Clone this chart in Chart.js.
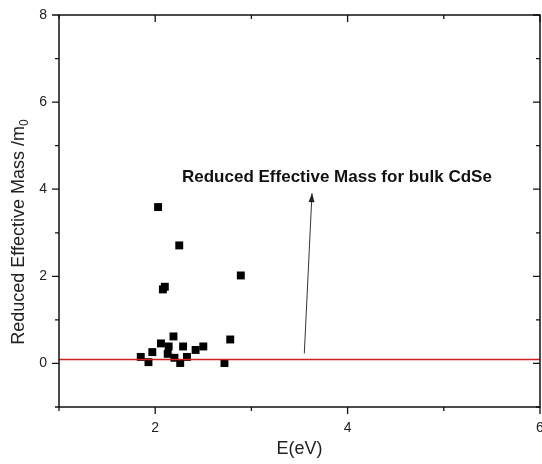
<!DOCTYPE html>
<html>
<head>
<meta charset="utf-8">
<script src="https://cdn.jsdelivr.net/npm/chart.js@4.4.1/dist/chart.umd.min.js"></script>
<style>
  html, body { margin:0; padding:0; background:#fff; }
  #wrap { width:542px; height:464px; }
</style>
</head>
<body>
<div id="wrap"><canvas id="massChart" width="542" height="464"></canvas></div>
<script>
// ========================== DATA ==========================
const energy = [1.85, 1.93, 1.97, 2.06, 2.13, 2.14, 2.19, 2.20, 2.26, 2.29, 2.33, 2.42, 2.50, 2.72, 2.78, 2.03, 2.25, 2.89, 2.08, 2.10];
const mass   = [0.15, 0.03, 0.26, 0.46, 0.22, 0.39, 0.62, 0.13, 0.01, 0.39, 0.15, 0.31, 0.39, 0.01, 0.55, 3.59, 2.71, 2.02, 1.70, 1.76];

const bulkMass = 0.09;          // red reference line
const bulkLineX = [1, 6];

const arrowX = [3.55, 3.63];    // annotation arrow (tail -> head)
const arrowY = [0.23, 3.91];
const noteText = "Reduced Effective Mass for bulk CdSe";

const xTicks = [2, 4, 6];
const xMinor = [1, 3, 5];
const yTicks = [0, 2, 4, 6, 8];
const yMinor = [-1, 1, 3, 5, 7];

const xTitle = "E(eV)";
const yTitle = "Reduced Effective Mass /m";
const yTitleSub = "0";

const FONT = "'Liberation Sans', Arial, sans-serif";

// ========================== HELPERS ==========================
function pts(xs, ys){
  return xs.map((x,i)=>({x:x, y:ys[i]}));
}

// frame, ticks, x tick labels, arrowhead, annotation and y title
const framePlugin = {
  id: "frame",
  afterDraw(chart){
    const ctx = chart.ctx;
    const a = chart.chartArea;
    const xs = chart.scales.x, ys = chart.scales.y;
    ctx.save();

    // arrowhead
    const x0 = xs.getPixelForValue(arrowX[0]), y0 = ys.getPixelForValue(arrowY[0]);
    const x1 = xs.getPixelForValue(arrowX[1]), y1 = ys.getPixelForValue(arrowY[1]);
    const ang = Math.atan2(y1-y0, x1-x0);
    const len = 9, hw = 3;
    ctx.fillStyle = "#222";
    ctx.beginPath();
    ctx.moveTo(x1, y1);
    ctx.lineTo(x1 - len*Math.cos(ang) + hw*Math.sin(ang), y1 - len*Math.sin(ang) - hw*Math.cos(ang));
    ctx.lineTo(x1 - len*Math.cos(ang) - hw*Math.sin(ang), y1 - len*Math.sin(ang) + hw*Math.cos(ang));
    ctx.closePath();
    ctx.fill();

    // annotation text
    ctx.fillStyle = "#111";
    ctx.font = "bold 17px " + FONT;
    ctx.textAlign = "left";
    ctx.textBaseline = "alphabetic";
    ctx.fillText(noteText, 182, 182);

    // x tick labels (drawn here so the last label doesn't shrink the plot)
    ctx.fillStyle = "#222";
    ctx.font = "14px " + FONT;
    ctx.textAlign = "center";
    ctx.textBaseline = "middle";
    xTicks.forEach(v=>{
      ctx.fillText(String(v), xs.getPixelForValue(v), a.bottom + 21);
    });

    // frame
    ctx.strokeStyle = "#111";
    ctx.lineWidth = 1.5;
    ctx.strokeRect(a.left, a.top, a.right - a.left, a.bottom - a.top);

    // ticks: outward on left/bottom, inward on right/top
    ctx.lineWidth = 1.3;
    ctx.beginPath();
    const tick = (vals, L) => {
      vals.forEach(v=>{
        const px = xs.getPixelForValue(v);
        ctx.moveTo(px, a.bottom); ctx.lineTo(px, a.bottom + L);
        ctx.moveTo(px, a.top);    ctx.lineTo(px, a.top + L);
      });
    };
    const ytick = (vals, L) => {
      vals.forEach(v=>{
        const py = ys.getPixelForValue(v);
        ctx.moveTo(a.left, py);  ctx.lineTo(a.left - L, py);
        ctx.moveTo(a.right, py); ctx.lineTo(a.right - L, py);
      });
    };
    tick(xTicks, 7); tick(xMinor, 4);
    ytick(yTicks, 7); ytick(yMinor, 4);
    ctx.stroke();

    // y title with subscript
    ctx.fillStyle = "#222";
    ctx.textBaseline = "alphabetic";
    ctx.translate(24, 232);
    ctx.rotate(-Math.PI/2);
    ctx.font = "18px " + FONT;
    const w1 = ctx.measureText(yTitle).width;
    ctx.font = "12px " + FONT;
    const w2 = ctx.measureText(yTitleSub).width;
    const start = -(w1 + w2)/2;
    ctx.font = "18px " + FONT;
    ctx.textAlign = "left";
    ctx.fillText(yTitle, start, 0);
    ctx.font = "12px " + FONT;
    ctx.fillText(yTitleSub, start + w1, 4);
    ctx.restore();
  }
};

// ========================== CHART ==========================
function initChart(){
  const ctx = document.getElementById("massChart").getContext("2d");
  new Chart(ctx, {
    type: "scatter",
    data: {
      datasets: [
        {
          label: "bulk",
          type: "line",
          data: pts(bulkLineX, [bulkMass, bulkMass]),
          borderColor: "rgb(205,35,35)",
          borderWidth: 1.3,
          pointRadius: 0
        },
        {
          label: "arrow",
          type: "line",
          data: pts(arrowX, arrowY),
          borderColor: "#333",
          borderWidth: 1,
          pointRadius: 0
        },
        {
          label: "Reduced effective mass",
          data: pts(energy, mass),
          pointStyle: "rect",
          pointRadius: 5.6,
          pointHoverRadius: 5.6,
          borderWidth: 0,
          backgroundColor: "#000",
          borderColor: "#000"
        }
      ]
    },
    options: {
      responsive: false,
      animation: false,
      events: [],
      layout: { autoPadding: false, padding: { top: 15, right: 2, left: 0, bottom: 0 } },
      plugins: { legend: { display: false }, tooltip: { enabled: false } },
      scales: {
        x: {
          type: "linear", min: 1, max: 6,
          afterBuildTicks: s => { s.ticks = xTicks.map(v=>({value:v})); },
          afterFit: s => { s.height = 57; },
          grid: { display: false, drawTicks: false },
          border: { display: false },
          ticks: { display: false },
          title: { display: true, text: xTitle, color: "#222", padding: { top: 2, bottom: 4 },
                   font: { size: 18, family: FONT } }
        },
        y: {
          type: "linear", min: -1, max: 8,
          afterBuildTicks: s => { s.ticks = yTicks.map(v=>({value:v})); },
          afterFit: s => { s.width = 59; s.paddingTop = 0; s.paddingBottom = 0; },
          grid: { display: false, drawTicks: false },
          border: { display: false },
          ticks: { color: "#222", padding: 12, font: { size: 14, family: FONT } }
        }
      }
    },
    plugins: [framePlugin]
  });
}

window.onload = initChart;
</script>
</body>
</html>
